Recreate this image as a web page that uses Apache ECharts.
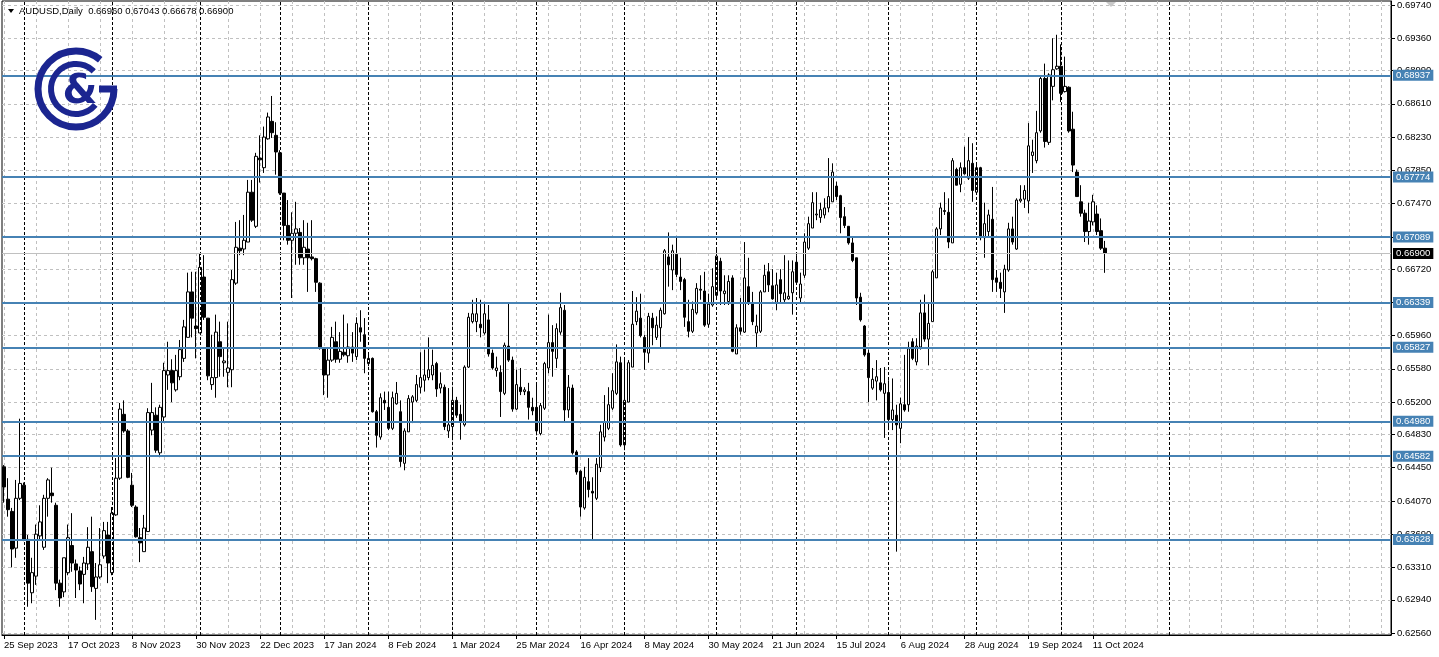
<!DOCTYPE html>
<html><head><meta charset="utf-8">
<script src="https://cdn.jsdelivr.net/npm/echarts@6/dist/echarts.min.js"></script>
<style>html,body{margin:0;padding:0;background:#fff}#c{width:1439px;height:657px}</style>
</head><body><div id="c"></div>
<script>
const symbolName = 'AUDUSD,Daily';
const startDate = '2023-09-25';
const holidays = ['2023-12-25', '2024-01-01'];
const futureDays = 71;

const open = [
.6446,.6409,.6395,.6353,.6410,.6425,.6363,.6302,.6321,.6367,
.6354,.6410,.6416,.6402,.6313,.6303,.6325,.6356,.6335,.6327,
.6323,.6335,.6349,.6307,.6320,.6344,.6368,.6325,.6391,.6433,
.6506,.6487,.6425,.6400,.6365,.6349,.6372,.6488,.6505,.6462,
.6503,.6551,.6556,.6534,.6549,.6570,.6594,.6646,.6607,.6599,
.6663,.6616,.6540,.6548,.6589,.6565,.6554,.6557,.6656,.6696,
.6695,.6703,.6760,.6721,.6799,.6788,.6821,.6841,.6825,.6805,
.6759,.6722,.6705,.6713,.6714,.6685,.6695,.6686,.6684,.6656,
.6582,.6551,.6568,.6589,.6569,.6577,.6573,.6583,.6572,.6605,
.6597,.6564,.6570,.6509,.6480,.6522,.6514,.6490,.6518,.6509,
.6450,.6486,.6520,.6522,.6537,.6545,.6548,.6551,.6564,.6536,
.6537,.6487,.6492,.6522,.6506,.6494,.6560,.6612,.6612,.6609,
.6599,.6614,.6576,.6556,.6554,.6530,.6584,.6568,.6512,.6537,
.6532,.6532,.6514,.6514,.6484,.6513,.6559,.6588,.6570,.6600,
.6625,.6511,.6536,.6463,.6441,.6399,.6429,.6418,.6410,.6445,
.6480,.6490,.6513,.6530,.6565,.6471,.6520,.6560,.6612,.6616,
.6594,.6576,.6616,.6594,.6605,.6621,.6686,.6671,.6689,.6663,
.6660,.6612,.6601,.6622,.6649,.6647,.6609,.6631,.6642,.6681,
.6644,.6635,.6662,.6575,.6605,.6600,.6652,.6633,.6599,.6601,
.6646,.6669,.6653,.6634,.6660,.6637,.6638,.6645,.6680,.6639,
.6665,.6696,.6719,.6734,.6731,.6734,.6742,.6749,.6767,.6756,
.6732,.6721,.6702,.6685,.6640,.6607,.6576,.6536,.6544,.6542,
.6530,.6531,.6500,.6505,.6490,.6517,.6517,.6589,.6566,.6583,
.6622,.6592,.6612,.6662,.6718,.6739,.6737,.6702,.6786,.6769,
.6788,.6776,.6793,.6760,.6788,.6708,.6715,.6729,.6662,.6657,
.6646,.6671,.6718,.6695,.6750,.6752,.6750,.6802,.6796,.6830,
.6890,.6817,.6881,.6901,.6904,.6875,.6880,.6832,.6783,.6749,
.6736,.6715,.6726,.6735,.6716,.66960];

const high = [
.6448,.6433,.6399,.6431,.6501,.6428,.6368,.6342,.6380,.6402,
.6414,.6433,.6445,.6405,.6317,.6342,.6380,.6393,.6340,.6332,
.6343,.6377,.6389,.6336,.6376,.6383,.6383,.6400,.6456,.6519,
.6522,.6489,.6439,.6402,.6376,.6391,.6513,.6542,.6514,.6517,
.6565,.6589,.6569,.6574,.6591,.6614,.6668,.6669,.6669,.6690,
.6688,.6616,.6597,.6620,.6612,.6582,.6612,.6671,.6726,.6728,
.6734,.6774,.6774,.6805,.6825,.6835,.6851,.6870,.6840,.6808,
.6759,.6751,.6737,.6749,.6719,.6728,.6725,.6728,.6685,.6657,
.6582,.6583,.6606,.6612,.6600,.6620,.6610,.6600,.6617,.6625,
.6616,.6577,.6571,.6511,.6530,.6532,.6532,.6532,.6543,.6522,
.6490,.6528,.6528,.6551,.6577,.6580,.6594,.6580,.6566,.6554,
.6540,.6536,.6536,.6526,.6517,.6562,.6622,.6637,.6639,.6637,
.6633,.6631,.6580,.6572,.6562,.6588,.6634,.6572,.6557,.6559,
.6537,.6542,.6525,.6540,.6519,.6566,.6620,.6608,.6610,.6645,
.6631,.6551,.6540,.6465,.6442,.6446,.6456,.6434,.6456,.6494,
.6528,.6537,.6553,.6586,.6572,.6571,.6568,.6647,.6640,.6644,
.6597,.6622,.6622,.6618,.6628,.6695,.6714,.6700,.6708,.6685,
.6662,.6637,.6635,.6656,.6665,.6669,.6644,.6673,.6694,.6685,
.6665,.6665,.6665,.6609,.6639,.6703,.6685,.6646,.6620,.6648,
.6677,.6679,.6672,.6668,.6672,.6688,.6682,.6682,.6688,.6668,
.6713,.6732,.6760,.6760,.6748,.6753,.6799,.6793,.6772,.6757,
.6743,.6721,.6708,.6685,.6645,.6608,.6580,.6559,.6568,.6559,
.6560,.6545,.6547,.6517,.6525,.6574,.6589,.6593,.6593,.6637,
.6643,.6634,.6671,.6720,.6748,.6760,.6753,.6799,.6788,.6794,
.6812,.6823,.6816,.6794,.6789,.6748,.6740,.6766,.6671,.6668,
.6677,.6725,.6732,.6753,.6768,.6768,.6839,.6820,.6853,.6894,
.6907,.6896,.6936,.6940,.6929,.6915,.6881,.6852,.6786,.6768,
.6740,.6748,.6757,.6745,.6730,.67043];

const low = [
.6405,.6389,.6331,.6342,.6408,.6361,.6286,.6290,.6311,.6362,
.6351,.6389,.6405,.6305,.6286,.6297,.6322,.6326,.6296,.6305,
.6290,.6328,.6303,.6271,.6318,.6341,.6313,.6322,.6390,.6431,
.6485,.6433,.6400,.6365,.6337,.6349,.6372,.6482,.6462,.6457,
.6497,.6534,.6520,.6532,.6545,.6566,.6594,.6594,.6570,.6599,
.6614,.6545,.6534,.6525,.6549,.6549,.6537,.6537,.6654,.6688,
.6688,.6703,.6726,.6719,.6771,.6782,.6820,.6822,.6780,.6757,
.6705,.6700,.6639,.6677,.6677,.6677,.6646,.6682,.6646,.6580,
.6528,.6525,.6566,.6565,.6565,.6572,.6565,.6566,.6568,.6589,
.6553,.6561,.6508,.6468,.6477,.6511,.6488,.6488,.6517,.6446,
.6442,.6486,.6496,.6520,.6530,.6532,.6545,.6545,.6526,.6530,
.6488,.6479,.6477,.6502,.6477,.6492,.6559,.6610,.6600,.6594,
.6597,.6572,.6557,.6549,.6503,.6528,.6566,.6509,.6511,.6528,
.6528,.6500,.6505,.6482,.6482,.6511,.6553,.6549,.6559,.6597,
.6497,.6502,.6460,.6437,.6389,.6397,.6411,.6362,.6408,.6440,
.6475,.6488,.6511,.6528,.6469,.6465,.6520,.6560,.6608,.6594,
.6557,.6565,.6585,.6591,.6583,.6620,.6652,.6648,.6663,.6648,
.6606,.6594,.6599,.6620,.6637,.6606,.6605,.6629,.6637,.6631,
.6631,.6631,.6577,.6575,.6597,.6599,.6631,.6608,.6583,.6599,
.6646,.6646,.6637,.6625,.6634,.6634,.6637,.6620,.6654,.6633,
.6662,.6694,.6719,.6728,.6725,.6730,.6737,.6749,.6751,.6713,
.6719,.6700,.6680,.6631,.6612,.6572,.6520,.6534,.6522,.6532,
.6479,.6488,.6488,.6349,.6473,.6509,.6509,.6568,.6562,.6580,
.6589,.6562,.6612,.6662,.6711,.6734,.6696,.6702,.6768,.6760,
.6780,.6774,.6749,.6757,.6705,.6685,.6708,.6646,.6646,.6639,
.6622,.6669,.6700,.6694,.6748,.6742,.6736,.6782,.6793,.6828,
.6811,.6814,.6865,.6900,.6863,.6874,.6828,.6783,.6755,.6732,
.6703,.6700,.6722,.6711,.6694,.66678];

const close = [
.6423,.6397,.6352,.6410,.6427,.6362,.6313,.6325,.6369,.6383,
.6410,.6431,.6413,.6313,.6296,.6342,.6365,.6336,.6328,.6312,
.6336,.6354,.6309,.6320,.6334,.6373,.6336,.6393,.6433,.6512,
.6487,.6434,.6402,.6366,.6359,.6376,.6508,.6508,.6465,.6514,
.6556,.6556,.6542,.6556,.6580,.6606,.6646,.6616,.6604,.6674,
.6617,.6550,.6548,.6600,.6572,.6567,.6559,.6660,.6697,.6693,
.6705,.6760,.6728,.6801,.6797,.6823,.6846,.6828,.6806,.6759,
.6722,.6705,.6713,.6718,.6685,.6697,.6685,.6684,.6657,.6582,
.6551,.6568,.6594,.6569,.6578,.6574,.6583,.6576,.6610,.6600,
.6570,.6570,.6509,.6482,.6525,.6519,.6490,.6525,.6530,.6452,
.6487,.6524,.6526,.6540,.6548,.6551,.6557,.6562,.6535,.6541,
.6492,.6494,.6522,.6505,.6497,.6560,.6617,.6621,.6621,.6605,
.6621,.6575,.6559,.6559,.6532,.6585,.6568,.6512,.6540,.6532,
.6534,.6514,.6510,.6487,.6516,.6564,.6588,.6578,.6604,.6628,
.6511,.6537,.6462,.6440,.6400,.6434,.6420,.6416,.6449,.6486,
.6497,.6517,.6533,.6566,.6471,.6522,.6565,.6609,.6624,.6596,
.6577,.6618,.6605,.6608,.6625,.6693,.6677,.6693,.6666,.6658,
.6617,.6601,.6626,.6650,.6648,.6608,.6632,.6652,.6687,.6647,
.6647,.6658,.6578,.6605,.6601,.6662,.6633,.6612,.6607,.6646,
.6665,.6654,.6638,.6654,.6644,.6645,.6641,.6669,.6657,.6655,
.6703,.6724,.6748,.6735,.6740,.6742,.6755,.6783,.6755,.6731,
.6722,.6702,.6682,.6639,.6614,.6574,.6548,.6546,.6549,.6534,
.6541,.6500,.6511,.6494,.6518,.6511,.6581,.6570,.6584,.6622,
.6592,.6610,.6669,.6718,.6742,.6738,.6703,.6796,.6768,.6788,
.6781,.6796,.6762,.6788,.6708,.6724,.6734,.6660,.6657,.6650,
.6672,.6718,.6703,.6751,.6752,.6762,.6813,.6806,.6828,.6890,
.6818,.6894,.6900,.6904,.6873,.6881,.6830,.6791,.6755,.6736,
.6715,.6727,.6749,.6715,.6696,.66900];

const priceTicks = ['0.69740','0.69360','0.68990','0.68610','0.68230','0.67850','0.67470','0.67090','0.66720','0.66340',
                    '0.65960','0.65580','0.65200','0.64830','0.64450','0.64070','0.63690','0.63310','0.62940','0.62560'];
const levels = [0.68937, 0.67774, 0.67089, 0.66339, 0.65827, 0.64980, 0.64582, 0.63628];

const MON = ['Jan','Feb','Mar','Apr','May','Jun','Jul','Aug','Sep','Oct','Nov','Dec'];
const fmtDate = d => d.getUTCDate() + ' ' + MON[d.getUTCMonth()] + ' ' + d.getUTCFullYear();
const N = open.length;
const cats = [], months = [];
let d = new Date(startDate + 'T00:00:00Z');
while (cats.length < N) {
  const dow = d.getUTCDay(), iso = d.toISOString().slice(0, 10);
  if (dow !== 0 && dow !== 6 && holidays.indexOf(iso) < 0) { cats.push(fmtDate(d)); months.push(d.getUTCMonth()); }
  d.setUTCDate(d.getUTCDate() + 1);
}
for (let k = 0; k < futureDays; k++) { cats.push(fmtDate(d)); months.push(d.getUTCMonth()); d.setUTCDate(d.getUTCDate() + 1); }
// month separators: every month start among the bars, plus the first one after the last bar
const separators = [];
let futureSep = 0;
for (let i = 1; i < cats.length; i++) {
  if (months[i] !== months[i - 1]) {
    if (i >= N) { if (futureSep++ > 0) continue; }
    separators.push(cats[i]);
  }
}

const candles = open.map((o, i) => [o, close[i], low[i], high[i]]);
const last = N - 1;
const FONT = 'Liberation Sans';
const FS = 9.5;
const tickVals = priceTicks.map(Number);
const LOGO = '#1b2590';

const chart = echarts.init(document.getElementById('c'), null, {renderer: 'canvas'});
chart.setOption({
  animation: false,
  backgroundColor: '#ffffff',
  grid: {left: 2, right: 48, top: 1, bottom: 22, show: true, borderColor: '#000', borderWidth: 1, backgroundColor: '#fff'},
  xAxis: {
    type: 'category', data: cats, boundaryGap: true,
    axisLine: {show: true, lineStyle: {color: '#000', width: 1}},
    axisTick: {show: true, alignWithLabel: true, length: 4, interval: i => i % 16 === 0 && i < N, lineStyle: {color: '#000'}},
    axisLabel: {interval: i => i % 16 === 0 && i < N, align: 'left', color: '#000', fontSize: FS, fontFamily: FONT, margin: 5},
    splitLine: {show: true, alignWithLabel: true, interval: i => i % 8 === 0, lineStyle: {color: '#c0c0c0', type: [3, 3], width: 1}}
  },
  yAxis: {
    type: 'value', position: 'right', min: 0.62537, max: 0.69786, scale: true,
    axisLine: {show: true, lineStyle: {color: '#000', width: 1}},
    axisTick: {show: true, length: 4, customValues: tickVals, lineStyle: {color: '#000'}},
    axisLabel: {customValues: tickVals, formatter: v => v.toFixed(5), color: '#000', fontSize: FS, fontFamily: FONT, margin: 6},
    splitLine: {show: true, lineStyle: {color: '#c0c0c0', type: [3, 3], width: 1}}
  },
  series: [
    {
      type: 'line', data: [], z: 1, silent: true,
      markLine: {
        silent: true, symbol: ['none', 'none'], animation: false, precision: 5,
        data: separators.map(s => ({xAxis: s, lineStyle: {color: '#000', type: [3, 2], width: 1}, label: {show: false}}))
      }
    },
    {
      type: 'candlestick', data: candles, barWidth: 3, z: 3, silent: true,
      itemStyle: {color: '#ffffff', color0: '#000000', borderColor: '#000000', borderColor0: '#000000', borderWidth: 1},
      markLine: {
        silent: true, symbol: ['none', 'none'], animation: false, precision: 5,
        data: [{yAxis: close[last], lineStyle: {color: '#c0c0c0', type: 'solid', width: 1},
            label: {backgroundColor: '#000'}}]
          .concat(levels.map(v => ({yAxis: v}))),
        lineStyle: {color: '#4682b4', type: 'solid', width: 2},
        label: {show: true, position: 'end', distance: 2, formatter: p => Number(p.value).toFixed(5),
          backgroundColor: '#4682b4', color: '#fff', padding: [1, 3, 0, 3], fontSize: FS, fontFamily: FONT}
      }
    }
  ],
  graphic: [
    {type: 'polygon', shape: {points: [[8, 9], [14, 9], [11, 13]]}, style: {fill: '#000'}, z: 10},
    {type: 'text', x: 19, y: 11, z: 10, style: {
      text: symbolName + '  ' + [open[last], high[last], low[last], close[last]].map(v => v.toFixed(5)).join(' '),
      fill: '#000', font: FS + 'px ' + FONT, verticalAlign: 'middle'}},
    {type: 'polygon', shape: {points: [[1106, 2], [1116, 2], [1111, 7]]}, style: {fill: '#c8c8c8'}, z: 10},
    {type: 'arc', z: 10, shape: {cx: 76, cy: 89, r: 38, startAngle: 0, endAngle: Math.PI * 1.72, clockwise: true},
      style: {stroke: LOGO, lineWidth: 7, fill: null}},
    {type: 'line', z: 10, shape: {x1: 99, y1: 89, x2: 117, y2: 89}, style: {stroke: LOGO, lineWidth: 7}},
    {type: 'arc', z: 10, shape: {cx: 76, cy: 89, r: 25, startAngle: Math.PI * 0.22, endAngle: Math.PI * 1.75, clockwise: true},
      style: {stroke: LOGO, lineWidth: 6, fill: null}},
    {type: 'text', z: 10, x: 80, y: 93, style: {text: '&', fill: LOGO, font: 'bold 40px "DejaVu Sans"', align: 'center', verticalAlign: 'middle'}}
  ]
});
</script>
</body></html>
